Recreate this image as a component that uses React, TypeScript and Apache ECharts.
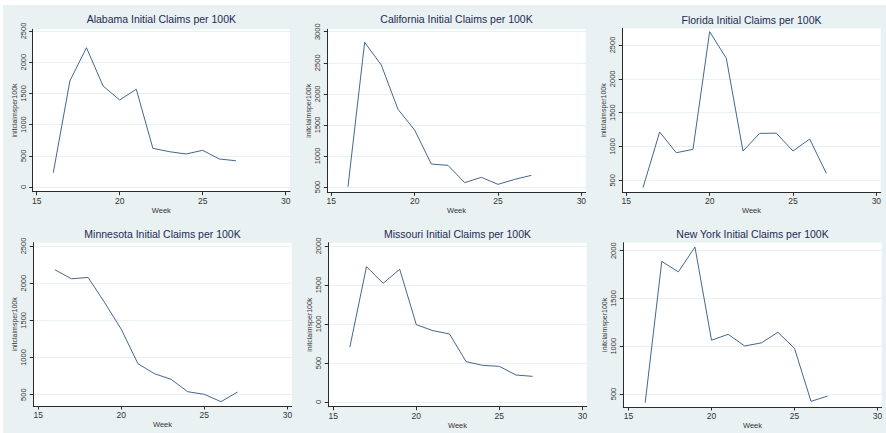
import React, { useEffect, useRef } from "react";
import * as echarts from "echarts";

const weeks = [16, 17, 18, 19, 20, 21, 22, 23, 24, 25, 26, 27];
const alabama = [229, 1699, 2232, 1619, 1394, 1566, 620, 566, 529, 588, 449, 421];
const california = [505, 2829, 2464, 1751, 1417, 870, 849, 570, 656, 543, 623, 688];
const florida = [391, 1213, 908, 958, 2697, 2303, 933, 1194, 1197, 933, 1110, 603];
const minnesota = [2180, 2059, 2077, 1737, 1379, 917, 782, 707, 540, 505, 406, 536];
const missouri = [705, 1735, 1521, 1701, 991, 915, 872, 517, 470, 457, 346, 329];
const newYork = [409, 1888, 1779, 2038, 1063, 1125, 1003, 1035, 1146, 979, 423, 479];

const titles = [
  "Alabama Initial Claims per 100K",
  "California Initial Claims per 100K",
  "Florida Initial Claims per 100K",
  "Minnesota Initial Claims per 100K",
  "Missouri Initial Claims per 100K",
  "New York Initial Claims per 100K",
];
const xTicks = [15, 20, 25, 30];
const yTicksAlabama = [0, 500, 1000, 1500, 2000, 2500];
const yTicksCalifornia = [500, 1000, 1500, 2000, 2500, 3000];
const yTicksFlorida = [500, 1000, 1500, 2000, 2500];
const yTicksMinnesota = [500, 1000, 1500, 2000, 2500];
const yTicksMissouri = [0, 500, 1000, 1500, 2000];
const yTicksNewYork = [500, 1000, 1500, 2000];
const xTitle = "Week";
const yTitle = "initclaimsper100k";

const seriesValues = [alabama, california, florida, minnesota, missouri, newYork];
const yTicks = [yTicksAlabama, yTicksCalifornia, yTicksFlorida, yTicksMinnesota, yTicksMissouri, yTicksNewYork];

// layout (pixels) and axis extents for each panel
const layout = [
  { left: 32.7, top: 29.3, width: 257.3, height: 162.4, xMin: 14.76, xMax: 30.26, yMin: -75, yMax: 2527, titleTop: 13 },
  { left: 327.3, top: 29.3, width: 258.4, height: 163, xMin: 14.76, xMax: 30.26, yMin: 415, yMax: 3039, titleTop: 13 },
  { left: 622.3, top: 28.3, width: 258.4, height: 164, xMin: 14.76, xMax: 30.26, yMin: 323, yMax: 2747, titleTop: 14 },
  { left: 33.3, top: 242.7, width: 258.4, height: 163.3, xMin: 14.7, xMax: 30.26, yMin: 348, yMax: 2544, titleTop: 228.5 },
  { left: 328.3, top: 242.7, width: 258.4, height: 164, xMin: 14.7, xMax: 30.26, yMin: -60, yMax: 2042, titleTop: 228.5 },
  { left: 623.3, top: 242.7, width: 258.4, height: 164.3, xMin: 14.68, xMax: 30.26, yMin: 364, yMax: 2084, titleTop: 228.5 },
];

const FONT = "Liberation Sans, Arial, sans-serif";
const LINE = "#44678e";
const AXIS = "#2b2b2b";
const TEXT = "#333333";

export default function App() {
  const ref = useRef<HTMLDivElement>(null);
  useEffect(() => {
    document.body.style.margin = "0";
    const chart = echarts.init(ref.current!, null, { renderer: "svg" });
    const option: any = {
      animation: false,
      backgroundColor: "#eaf1f3",
      textStyle: { fontFamily: FONT },
      graphic: [
        { type: "rect", left: 0, top: 0, shape: { width: 886, height: 5 }, style: { fill: "#ffffff" }, z: -10 },
        { type: "rect", left: 0, top: 0, shape: { width: 3, height: 433 }, style: { fill: "#ffffff" }, z: -10 },
      ],
      title: layout.map((l, i) => ({
        text: titles[i],
        left: l.left + l.width / 2,
        top: l.titleTop,
        textAlign: "center",
        padding: 0,
        textStyle: { fontFamily: FONT, fontSize: 10.5, fontWeight: "normal", color: "#1c2a52" },
      })),
      grid: layout.map((l) => ({
        left: l.left,
        top: l.top,
        width: l.width,
        height: l.height,
        show: true,
        backgroundColor: "#ffffff",
        borderWidth: 0,
        containLabel: false,
      })),
      xAxis: layout.map((l, i) => ({
        type: "value",
        gridIndex: i,
        min: l.xMin,
        max: l.xMax,
        name: xTitle,
        nameLocation: "middle",
        nameGap: 13,
        nameTextStyle: { fontFamily: FONT, fontSize: 7.5, color: TEXT },
        axisLine: { show: true, onZero: false, lineStyle: { color: AXIS, width: 1 } },
        axisTick: { show: true, customValues: xTicks, length: 3.5, lineStyle: { color: AXIS } },
        axisLabel: { customValues: xTicks, fontFamily: FONT, fontSize: 8.5, color: TEXT, margin: 4.5, formatter: (v: number) => String(v) },
        splitLine: { show: false },
      })),
      yAxis: layout.map((l, i) => ({
        type: "value",
        gridIndex: i,
        min: l.yMin,
        max: l.yMax,
        name: yTitle,
        nameLocation: "middle",
        nameRotate: 90,
        nameGap: 15,
        nameTextStyle: { fontFamily: FONT, fontSize: 7, color: TEXT },
        axisLine: { show: true, onZero: false, lineStyle: { color: AXIS, width: 1 } },
        axisTick: { show: true, customValues: yTicks[i], length: 3.5, lineStyle: { color: AXIS } },
        axisLabel: { customValues: yTicks[i], rotate: 90, fontFamily: FONT, fontSize: 7.5, color: TEXT, margin: 5.5, formatter: (v: number) => String(v) },
        splitLine: { show: true, lineStyle: { color: "#e9f0f2", width: 1 } },
      })),
      series: seriesValues.map((vals, i) => ({
        type: "line",
        xAxisIndex: i,
        yAxisIndex: i,
        data: weeks.map((w, j) => [w, vals[j]]),
        showSymbol: false,
        symbol: "none",
        lineStyle: { color: LINE, width: 1 },
        z: 3,
      })),
    };
    chart.setOption(option);
    return () => chart.dispose();
  }, []);
  return <div ref={ref} style={{ width: 886, height: 433 }} />;
}
